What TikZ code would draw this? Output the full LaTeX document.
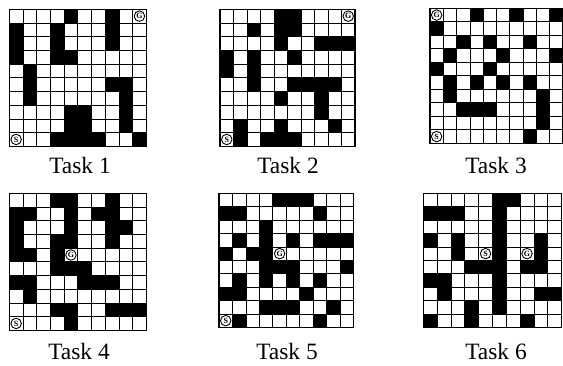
\documentclass[tikz,border=0pt]{standalone}
\usepackage{fontspec}
\setmainfont{Liberation Serif}
\tikzset{
  gridline/.style={line width=0.8pt, draw=black},
  gridframe/.style={line width=1.2pt, draw=black},
  endsym/.style={circle, draw=black, fill=white, line width=0.9pt, inner sep=0pt,
    minimum size=10.5pt, font=\fontsize{8}{8}\selectfont\bfseries},
  tasklabel/.style={font=\fontsize{23.4}{26}\selectfont, anchor=base, inner sep=0pt}
}
\newcommand\mazegrid[6]{%
  \begin{scope}[shift={(#1pt,-#2pt)}, x=#3pt, y=-#4pt]
    \foreach \c/\r in {#5} \fill[black] (\c,\r) rectangle ++(1,1);
    \foreach \i in {1,...,9} {
      \draw[gridline] (\i,0) -- (\i,10);
      \draw[gridline] (0,\i) -- (10,\i);
    }
    \draw[gridframe] (0,0) rectangle (10,10);
    #6
  \end{scope}}
\begin{document}
\begin{tikzpicture}
\useasboundingbox (0pt,0pt) rectangle (563pt,-365pt);
\fill[white] (0pt,0pt) rectangle (563pt,-365pt);
% Task 1
\mazegrid{9.3}{9.3}{13.7}{13.7}{4/0,7/0, 0/1,3/1,7/1, 0/2,3/2,7/2, 0/3,3/3,4/3, 1/4, 1/5,7/5,8/5, 1/6,8/6, 4/7,5/7,8/7, 4/8,5/8,8/8, 3/9,4/9,5/9,6/9,9/9}{%
  \node[endsym] (g1) at (9.5,0.5) {G};
  \node[endsym] (s1) at (0.5,9.5) {S};}
% Task 2
\mazegrid{220}{9.3}{13.5}{13.7}{4/0,5/0, 2/1,4/1,5/1, 4/2,7/2,8/2,9/2, 0/3,2/3,5/3, 0/4,2/4, 2/5,5/5,6/5,7/5,8/5, 4/6,7/6, 7/7, 1/8,4/8,8/8, 1/9,3/9,4/9,5/9}{%
  \node[endsym] (g2) at (9.5,0.5) {G};
  \node[endsym] (s2) at (0.5,9.5) {S};}
% Task 3
\mazegrid{430}{8.3}{13.3}{13.5}{3/0,6/0,9/0, 0/1, 2/2,4/2,7/2, 1/3,5/3,9/3, 0/4,4/4, 1/5,3/5,5/5,7/5, 1/6,8/6, 2/7,3/7,4/7,8/7, 8/8, 7/9}{%
  \node[endsym] (g3) at (0.5,0.5) {G};
  \node[endsym] (s3) at (0.5,9.5) {S};}
% Task 4
\mazegrid{9.3}{193.3}{13.7}{13.7}{3/0,4/0,7/0, 0/1,1/1,4/1,6/1,7/1, 0/2,4/2,7/2,8/2, 0/3,3/3,4/3,7/3, 0/4,1/4,3/4, 3/5,4/5,5/5, 0/6,1/6,5/6,6/6,7/6, 1/7, 3/8,4/8,7/8,8/8,9/8, 4/9}{%
  \node[endsym] (g4) at (4.5,4.5) {G};
  \node[endsym] (s4) at (0.5,9.5) {S};}
% Task 5
\mazegrid{219}{193.3}{13.47}{13.4}{4/0,5/0,6/0, 0/1,1/1,7/1, 3/2, 1/3,3/3,5/3,7/3,8/3,9/3, 0/4,2/4,3/4, 3/5,4/5,5/5,9/5, 1/6,3/6,5/6,7/6, 0/7,1/7,6/7, 3/8,4/8,5/8,8/8, 1/9,7/9}{%
  \node[endsym] (g5) at (4.5,4.5) {G};
  \node[endsym] (s5) at (0.5,9.5) {S};}
% Task 6
\mazegrid{423.3}{193.3}{13.83}{13.4}{5/0,6/0, 0/1,1/1,2/1,5/1, 5/2, 0/3,2/3,5/3,8/3, 2/4,5/4,8/4, 3/5,4/5,5/5,7/5,8/5, 0/6,1/6,5/6, 1/7,5/7,8/7,9/7, 3/8,5/8, 0/9,3/9,7/9}{%
  \node[endsym] (s6) at (4.5,4.5) {S};
  \node[endsym] (g6) at (7.5,4.5) {G};}
% labels
\node[tasklabel] (t1) at (80pt,-173pt) {Task 1};
\node[tasklabel] (t2) at (288pt,-173pt) {Task 2};
\node[tasklabel] (t3) at (496pt,-173pt) {Task 3};
\node[tasklabel] (t4) at (79pt,-359pt) {Task 4};
\node[tasklabel] (t5) at (287pt,-359pt) {Task 5};
\node[tasklabel] (t6) at (496pt,-359pt) {Task 6};
\end{tikzpicture}
\end{document}
